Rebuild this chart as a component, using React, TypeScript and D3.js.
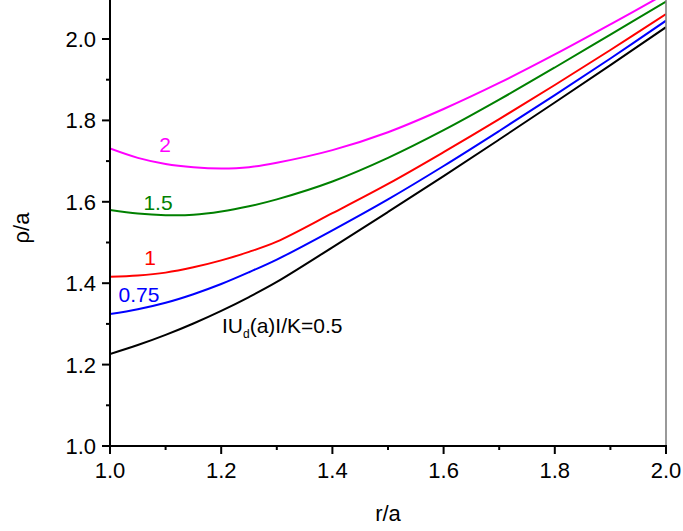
import React from "react";
import * as d3 from "d3";

const xs = [1.0, 1.05, 1.1, 1.15, 1.2, 1.25, 1.3, 1.4, 1.5, 1.6, 1.7, 1.8, 1.9, 2.0];
const seriesK2 = [1.731, 1.708, 1.693, 1.685, 1.682, 1.685, 1.696, 1.727, 1.771, 1.828, 1.892, 1.962, 2.036, 2.112];
const seriesK15 = [1.580, 1.571, 1.567, 1.568, 1.576, 1.589, 1.606, 1.650, 1.708, 1.776, 1.851, 1.930, 2.011, 2.092];
const seriesK1 = [1.416, 1.419, 1.426, 1.439, 1.456, 1.477, 1.502, 1.572, 1.644, 1.722, 1.803, 1.887, 1.973, 2.061];
const seriesK075 = [1.324, 1.336, 1.352, 1.373, 1.398, 1.427, 1.458, 1.530, 1.606, 1.688, 1.774, 1.862, 1.952, 2.045];
const seriesK05 = [1.226, 1.248, 1.273, 1.301, 1.332, 1.366, 1.403, 1.488, 1.575, 1.663, 1.753, 1.844, 1.936, 2.029];

const seriesColors = ["#ff00ff", "#008000", "#ff0000", "#0000ff", "#000000"];
const majorTicks = [1.0, 1.2, 1.4, 1.6, 1.8, 2.0];
const minorTicks = [1.1, 1.3, 1.5, 1.7, 1.9];
const tickLabels = ["1.0", "1.2", "1.4", "1.6", "1.8", "2.0"];

export default function App() {
  const W = 683, H = 531;
  const x = d3.scaleLinear().domain([1, 2]).range([110, 666]);
  const y = d3.scaleLinear().domain([1, 2]).range([446, 39]);
  const line = d3
    .line<number>()
    .x((_, i) => x(xs[i]))
    .y((d) => y(d))
    .curve(d3.curveCatmullRom.alpha(0.5));
  const all = [seriesK2, seriesK15, seriesK1, seriesK075, seriesK05];
  const font = "Arial, 'Liberation Sans', sans-serif";
  const x0 = x(1), x1 = x(2), y0 = y(1);
  return (
    <svg width={W} height={H} style={{ position: "absolute", left: 0, top: 0, background: "#fff" }} fontFamily={font}>
      <defs>
        <clipPath id="plot">
          <rect x={x0} y={0} width={x1 - x0} height={y0} />
        </clipPath>
      </defs>
      <g clipPath="url(#plot)">
        {all.map((s, i) => (
          <path key={i} d={line(s) || ""} fill="none" stroke={seriesColors[i]} strokeWidth={2} />
        ))}
      </g>
      <line x1={x1} x2={x1} y1={0} y2={y0} stroke="#808080" strokeWidth={1.6} />
      <line x1={x0} x2={x0} y1={0} y2={y0 + 1} stroke="#000" strokeWidth={2} />
      <line x1={x0 - 1} x2={x1 + 1} y1={y0} y2={y0} stroke="#000" strokeWidth={2} />
      {majorTicks.map((t, i) => (
        <g key={"my" + i}>
          <line x1={x0} x2={x0 - 8} y1={y(t)} y2={y(t)} stroke="#000" strokeWidth={2} />
          <text x={96} y={y(t)} dy="0.36em" textAnchor="end" fontSize={22}>{tickLabels[i]}</text>
          <line x1={x(t)} x2={x(t)} y1={y0} y2={y0 + 8} stroke="#000" strokeWidth={2} />
          <text x={x(t)} y={478} textAnchor="middle" fontSize={22}>{tickLabels[i]}</text>
        </g>
      ))}
      {minorTicks.map((t, i) => (
        <g key={"mn" + i}>
          <line x1={x0} x2={x0 - 4} y1={y(t)} y2={y(t)} stroke="#000" strokeWidth={2} />
          <line x1={x(t)} x2={x(t)} y1={y0} y2={y0 + 4} stroke="#000" strokeWidth={2} />
        </g>
      ))}
      <text x={(x0 + x1) / 2} y={521} textAnchor="middle" fontSize={22}>r/a</text>
      <text transform={`translate(29,228) rotate(-90)`} textAnchor="middle" fontSize={22}>ρ/a</text>
      <text x={165} y={152} textAnchor="middle" fontSize={21} fill="#ff00ff">2</text>
      <text x={158} y={210} textAnchor="middle" fontSize={21} fill="#008000">1.5</text>
      <text x={150} y={265} textAnchor="middle" fontSize={21} fill="#ff0000">1</text>
      <text x={139} y={302} textAnchor="middle" fontSize={21} fill="#0000ff">0.75</text>
      <text x={222} y={333} fontSize={21} fill="#000">
        IU<tspan fontSize={12} dy={5}>d</tspan><tspan dy={-5}>(a)I/K=0.5</tspan>
      </text>
    </svg>
  );
}
